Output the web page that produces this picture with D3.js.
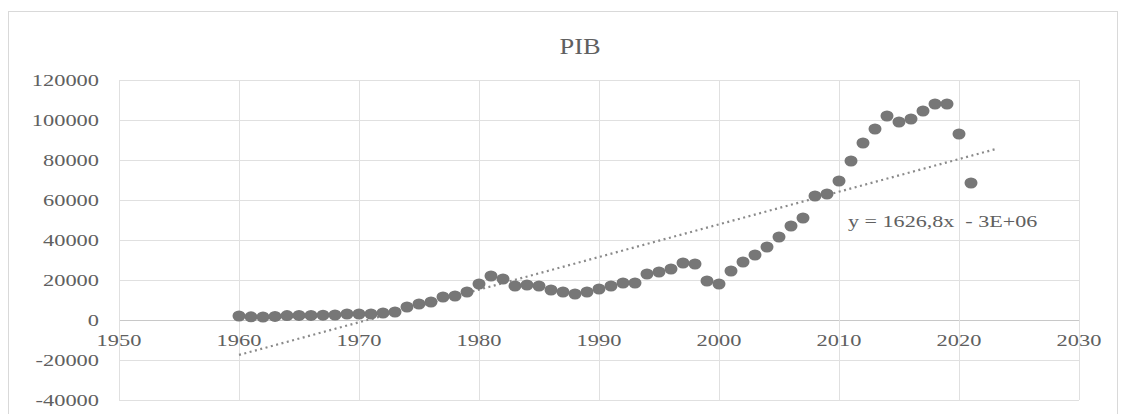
<!DOCTYPE html>
<html lang="fr">
<head>
<meta charset="UTF-8">
<title>PIB</title>
<script src="https://d3js.org/d3.v7.min.js"></script>
<style>
    html, body { margin:0; padding:0; background:#fff; }
    svg text { font-family: "Liberation Serif", "DejaVu Serif", serif; fill:#606060; }
</style>
</head>
<body>
<div id="chart"></div>
<script>
    // données
    const years = d3.range(1960, 2022);
    const pib = [
        2000, 1600, 1500, 1800, 2200, 2300, 2300, 2400, 2500, 3000,
        3000, 3000, 3500, 4000, 6500, 8000, 9000, 11500, 12000, 14000,
        18000, 22000, 20500, 17000, 17500, 17000, 15000, 14000, 13000, 14000,
        15500, 17000, 18500, 18500, 23000, 24000, 25500, 28500, 28000, 19500,
        18000, 24500, 29000, 32500, 36500, 41500, 47000, 51000, 62000, 63000,
        69500, 79500, 88500, 95500, 102000, 99000, 100500, 104500, 108000, 108000,
        93000, 68500
    ];
    const xTicks = [1950, 1960, 1970, 1980, 1990, 2000, 2010, 2020, 2030];
    const yTicks = [-40000, -20000, 0, 20000, 40000, 60000, 80000, 100000, 120000];
    const title = "PIB";
    const equation = "y = 1626,8x  - 3E+06";
    const trendEnd = 2023; // prévision avant de 2 périodes

    const W = 1121, H = 414;
    const sx = 1.4; // texte étiré horizontalement

    const svg = d3.select("#chart").append("svg")
        .attr("width", W).attr("height", H);

    // cadre du graphique
    svg.append("rect")
        .attr("x", 8.5).attr("y", 11.5)
        .attr("width", 1109).attr("height", 420)
        .attr("fill", "#fff").attr("stroke", "#d9d9d9");

    const x = d3.scaleLinear().domain([1950, 2030]).range([119, 1079]);
    const y = d3.scaleLinear().domain([-40000, 120000]).range([400, 80]);

    // grille
    svg.append("g").selectAll("line")
        .data(yTicks).join("line")
        .attr("x1", x(1950)).attr("x2", x(2030))
        .attr("y1", d => Math.round(y(d)) + 0.5).attr("y2", d => Math.round(y(d)) + 0.5)
        .attr("stroke", d => d === 0 ? "#c8c8c8" : "#e0e0e0");
    svg.append("g").selectAll("line")
        .data(xTicks).join("line")
        .attr("x1", d => Math.round(x(d)) + 0.5).attr("x2", d => Math.round(x(d)) + 0.5)
        .attr("y1", y(120000)).attr("y2", y(-40000))
        .attr("stroke", "#e0e0e0");

    // étiquettes des axes
    svg.append("g").selectAll("text")
        .data(yTicks).join("text")
        .attr("transform", d => `translate(99,${y(d)}) scale(${sx},1)`)
        .attr("text-anchor", "end")
        .attr("dy", "0.35em")
        .attr("font-size", 16)
        .text(d => d);
    svg.append("g").selectAll("text")
        .data(xTicks).join("text")
        .attr("transform", d => `translate(${x(d)},${y(0) + 20}) scale(${sx},1)`)
        .attr("text-anchor", "middle")
        .attr("dy", "0.35em")
        .attr("font-size", 16)
        .text(d => d);

    // courbe de tendance (moindres carrés)
    const mx = d3.mean(years), my = d3.mean(pib);
    let num = 0, den = 0;
    years.forEach((yr, i) => { num += (yr - mx) * (pib[i] - my); den += (yr - mx) * (yr - mx); });
    const slope = num / den, icpt = my - slope * mx;
    svg.append("line")
        .attr("x1", x(1960)).attr("y1", y(slope * 1960 + icpt))
        .attr("x2", x(trendEnd)).attr("y2", y(slope * trendEnd + icpt))
        .attr("stroke", "#8a8a8a")
        .attr("stroke-width", 2.2)
        .attr("stroke-dasharray", "2,3.5");

    // points
    svg.append("g").selectAll("ellipse")
        .data(years).join("ellipse")
        .attr("cx", (d) => x(d))
        .attr("cy", (d, i) => y(pib[i]))
        .attr("rx", 6.5).attr("ry", 5.5)
        .attr("fill", "#777777");

    // titre
    svg.append("text")
        .attr("transform", `translate(580,54) scale(1.1,1)`)
        .attr("text-anchor", "middle")
        .attr("font-size", 24)
        .text(title);

    // équation
    svg.append("text")
        .attr("transform", `translate(848,227) scale(1.3,1)`)
        .attr("font-size", 17)
        .style("white-space", "pre")
        .text(equation);
</script>
</body>
</html>
